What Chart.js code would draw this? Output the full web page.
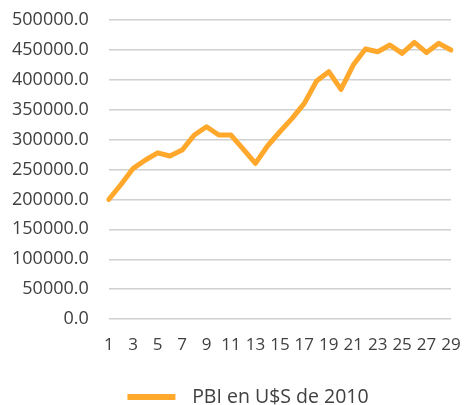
<!DOCTYPE html>
<html>
<head>
<meta charset="utf-8">
<script src="https://cdn.jsdelivr.net/npm/chart.js@4.4.0/dist/chart.umd.min.js"></script>
<style>
  html, body { margin: 0; padding: 0; background: #fff; }
  #wrap { width: 464px; height: 405px; position: relative; }
</style>
</head>
<body>
<div id="wrap"><canvas id="pbi"></canvas></div>
<script>
const years = ['1','2','3','4','5','6','7','8','9','10','11','12','13','14','15','16','17','18','19','20','21','22','23','24','25','26','27','28','29'];
const pbi = [200000, 225000, 252000, 266000, 278000, 272600, 282600, 307700, 321600, 307700,
  307700, 284000, 260300, 289800, 313200, 335500, 360700, 398000, 413600, 384000,
  424700, 451500, 447000, 458200, 444300, 462700, 445500, 461000, 449800];
const yTicks = [0, 50000, 100000, 150000, 200000, 250000, 300000, 350000, 400000, 450000, 500000];
const seriesName = 'PBI en U$S de 2010';

const orange = '#FFA82B';
const textColor = '#404040';
const fontFamily = '"Open Sans", sans-serif';

// legend swatch: short thick line, drawn on the right part of a wider box
const swatch = document.createElement('canvas');
swatch.width = 108;
swatch.height = 6;
const sctx = swatch.getContext('2d');
sctx.fillStyle = orange;
sctx.fillRect(53, 0, 48, 6);

new Chart(document.getElementById('pbi'), {
  type: 'line',
  data: {
    labels: years,
    datasets: [{
      label: seriesName,
      data: pbi,
      borderColor: orange,
      backgroundColor: orange,
      borderWidth: 5,
      pointRadius: 0,
      tension: 0,
      borderJoinStyle: 'round',
      borderCapStyle: 'round'
    }]
  },
  options: {
    responsive: true,
    maintainAspectRatio: false,
    animation: false,
    layout: { padding: { left: -8, right: 13, top: 20, bottom: -12 } },
    scales: {
      x: {
        grid: { display: false },
        border: { display: false },
        afterFit: function (axis) {
          axis.height += 21;
          axis.paddingLeft = 0;
          axis.paddingRight = 0;
        },
        ticks: {
          color: textColor,
          font: { family: fontFamily, size: 17 },
          maxRotation: 0,
          autoSkip: false,
          padding: 8,
          callback: function (v, i) { return i % 2 === 0 ? years[i] : ''; }
        }
      },
      y: {
        min: 0,
        max: 500000,
        afterBuildTicks: function (axis) { axis.ticks = yTicks.map(v => ({ value: v })); },
        afterFit: function (axis) {
          axis.paddingTop = 0;
          axis.paddingBottom = 0;
        },
        grid: { color: '#d0d0d0', lineWidth: 1.5, drawTicks: false },
        border: { display: false },
        ticks: {
          color: textColor,
          font: { family: fontFamily, size: 18 },
          padding: 20,
          callback: function (v) { return v.toFixed(1); }
        }
      }
    },
    plugins: {
      legend: {
        position: 'bottom',
        labels: {
          color: textColor,
          font: { family: fontFamily, size: 19.5 },
          usePointStyle: true,
          pointStyle: swatch,
          pointStyleWidth: 108,
          padding: 3
        }
      },
      tooltip: { enabled: false }
    }
  }
});
</script>
</body>
</html>
